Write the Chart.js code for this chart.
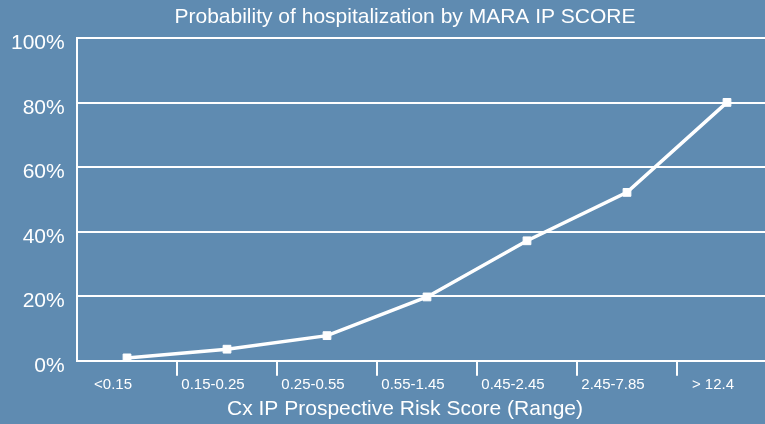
<!DOCTYPE html>
<html>
<head>
<meta charset="utf-8">
<script src="https://cdn.jsdelivr.net/npm/chart.js@4/dist/chart.umd.min.js"></script>
<style>
  html, body { margin: 0; padding: 0; background: #5f8bb1; overflow: hidden; }
  #wrap { width: 810px; height: 424px; }
</style>
</head>
<body>
<div id="wrap"><canvas id="lineChart" width="810" height="424"></canvas></div>
<script>
// data
const scoreRanges = ['<0.15', '0.15-0.25', '0.25-0.55', '0.55-1.45', '0.45-2.45', '2.45-7.85', '> 12.4'];
const hospitalProb = [0.9, 3.6, 7.8, 19.8, 37.2, 52.2, 80.1];
const yTicks = [0, 20, 40, 60, 80, 100];

const fontFamily = '"Liberation Sans", Arial, Helvetica, sans-serif';

const ctx = document.getElementById('lineChart').getContext('2d');
const chart = new Chart(ctx, {
    type: 'line',
    data: {
        labels: scoreRanges,
        datasets: [{
            label: 'Probability',
            data: hospitalProb,
            borderColor: '#ffffff',
            borderWidth: 3.5,
            fill: false,
            tension: 0,
            pointStyle: 'rect',
            pointRadius: 5.5,
            pointBackgroundColor: '#ffffff',
            pointBorderColor: '#ffffff',
            pointBorderWidth: 1
        }]
    },
    options: {
        responsive: false,
        animation: false,
        // equal side padding keeps the titles centred at 405 like the original
        layout: { padding: { left: 33, right: 33, top: 0, bottom: 0 } },
        plugins: {
            legend: { display: false },
            tooltip: { enabled: false },
            title: {
                display: true,
                text: 'Probability of hospitalization by MARA IP SCORE',
                color: '#ffffff',
                font: { family: fontFamily, size: 21, weight: 'normal' },
                padding: { top: 5, bottom: 8 }
            },
            subtitle: {
                display: true,
                position: 'bottom',
                text: 'Cx IP Prospective Risk Score (Range)',
                color: '#ffffff',
                font: { family: fontFamily, size: 21, weight: 'normal' },
                padding: { top: 3, bottom: 2 }
            }
        },
        scales: {
            x: {
                offset: true,
                grid: {
                    offset: true,
                    drawOnChartArea: false,
                    drawTicks: true,
                    tickLength: 15,
                    lineWidth: 2,
                    color: (c) => (c.index === 0 ? 'rgba(0,0,0,0)' : '#ffffff')
                },
                border: { display: true, color: '#ffffff', width: 2 },
                ticks: {
                    color: '#ffffff',
                    font: { family: fontFamily, size: 15 },
                    padding: 0,
                    labelOffset: -14,
                    maxRotation: 0,
                    autoSkip: false
                }
            },
            y: {
                min: 0,
                max: 100,
                afterBuildTicks: (axis) => {
                    axis.ticks = yTicks.map(v => ({ value: v }));
                },
                afterFit: (axis) => {
                    axis.width = 44; // labels hang out into the left padding
                },
                grid: {
                    drawTicks: false,
                    lineWidth: 2,
                    color: '#ffffff'
                },
                border: { display: true, color: '#ffffff', width: 2 },
                ticks: {
                    color: '#ffffff',
                    font: { family: fontFamily, size: 21 },
                    // mirrored so the labels are not clipped to the narrow axis box
                    mirror: true,
                    crossAlign: 'far',
                    padding: -66,
                    labelOffset: 5,
                    callback: (v) => v + '%'
                }
            }
        }
    }
});
</script>
</body>
</html>
